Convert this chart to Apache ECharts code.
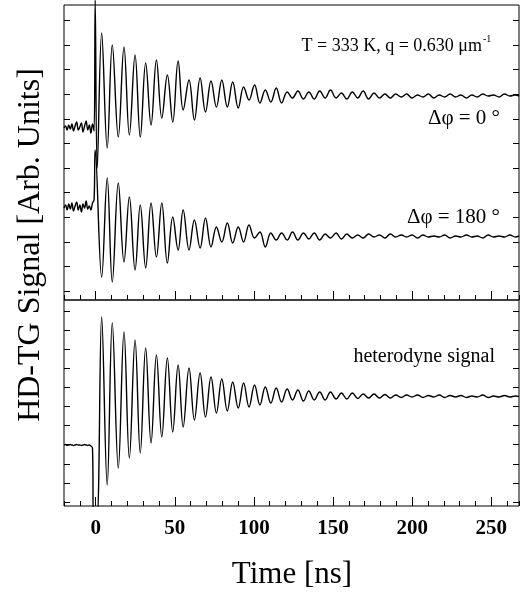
<!DOCTYPE html>
<html>
<head>
  <meta charset="UTF-8" />
  <title>HD-TG Signal</title>
  <script src="https://cdn.jsdelivr.net/npm/echarts@6/dist/echarts.min.js"></script>
  <style>
    html, body { margin: 0; padding: 0; background: #fff; }
    #chart { width: 524px; height: 595px; }
  </style>
</head>
<body>
  <div id="chart"></div>
  <script>
    // time before the pump pulse (ns)
    const preT = [-20, -19, -18, -17, -16, -15, -14, -13, -12, -11, -10, -9, -8, -7, -6, -5, -4, -3, -2];
    const phi0Pre = [172, 174, 170, 175, 171, 176, 169, 174, 178, 170, 173, 177, 168, 174, 179, 170, 175, 167, 176];
    const phi180Pre = [92, 95, 90, 96, 91, 97, 89, 94, 98, 90, 95, 88, 96, 92, 99, 91, 94, 90, 97];
    const hetPre = [61, 61.5, 60.5, 61, 61.5, 61, 60.5, 61, 61.5, 61, 61, 60.5, 61, 61.5, 61, 60.5, 61, 60, 58];

    // the spike at t = 0
    const phi0SpikeT = [-1.0, -0.3, 1.0];
    const phi0SpikeV = [169, 300, 132];
    const phi180SpikeT = [-1.0, -0.3];
    const phi180SpikeV = [100, 150];
    const hetSpikeT = [-1.3, 0.7];
    const hetSpikeV = [-15, -15];

    // times of the oscillation maxima / minima (ns)
    const extT = [3.8, 7.3, 10.5, 14.3, 17.9, 21.3, 24.9, 28.2, 31.6, 35.0, 38.4, 41.8, 45.3, 48.7, 52.1, 55.3,
      59.0, 62.4, 66.0, 69.4, 72.9, 76.3, 79.7, 83.2, 86.6, 90.1, 93.5, 96.9, 100.4, 103.8, 107.2, 110.7, 114.1,
      117.5, 121.0, 124.4, 127.8, 131.3, 134.7, 138.1, 141.6, 145.0, 148.4, 151.9, 155.3, 158.7, 162.2, 165.6,
      169.0, 172.5, 175.9, 179.3, 182.8, 186.2, 189.6, 193.1, 196.5, 199.9, 203.4, 206.8, 210.2, 213.7, 217.1,
      220.5, 224.0, 227.4, 230.8, 234.3, 237.7, 241.1, 244.6, 248.0, 251.4, 254.9, 258.3, 261.7, 265.2, 267.5];

    const phi0Ext = [267, 152, 255, 163, 253, 165, 245, 163, 237, 175, 240, 182, 225, 178, 239, 190, 220, 180, 222,
      188, 219, 193, 220, 193, 218, 192, 213, 200, 215, 197, 210, 198, 212, 197, 208, 202, 209,
      201, 208, 201, 209, 202, 210, 202, 207, 201, 208, 202, 209, 201, 207, 202, 206, 202, 206, 203, 206, 202, 205,
      203, 206, 202, 205, 203, 206, 203, 205, 202, 205, 203, 206, 204, 205, 203, 206, 204, 205, 204];
    const phi180Ext = [23, 122, 18, 117, 38, 103, 30, 95, 32, 97, 43, 97, 37, 83, 50, 90, 50, 80, 52, 82, 53, 73,
      58, 77, 57, 73, 58, 75, 62, 68, 53, 67, 60, 67, 60, 68, 60,
      67, 61, 67, 60, 66, 62, 67, 61, 66, 62, 65, 62, 66, 63, 65, 62, 66, 63, 65, 63, 65, 62, 65, 63, 64, 63, 65,
      62, 64, 63, 65, 63, 64, 62, 65, 63, 64, 63, 65, 63, 64];
    const hetExt = [189, 21, 183, 38, 174, 48, 166, 53, 158, 63, 151, 69, 148, 74, 141, 79, 138, 86, 133, 89, 129,
      93, 127, 95, 124, 98, 123, 99, 121, 101, 119, 103, 118, 104, 117, 106, 116,
      105, 115, 106, 114, 106, 114, 107, 113, 107, 113, 107.5, 112, 108, 112, 108, 111.5, 108, 111, 108.5, 111,
      109, 111, 108.5, 110.5, 109, 111, 108.5, 110.5, 109, 110.5, 108.5, 110, 109, 111, 108.5, 110, 109, 110.5,
      109, 110, 109.5];

    // tick positions (no labels on y)
    const topTicks = [9, 33.6, 58.2, 82.8, 107.4, 132, 156.6, 181.2, 205.8, 230.4, 255, 279.6];
    const bottomTicks = [4, 23.1, 42.2, 61.3, 80.4, 99.5, 118.6, 137.7, 156.8, 175.9, 195];
    const xMajor = [0, 50, 100, 150, 200, 250];

    function pairs(ts, vs) {
      return ts.map((t, i) => [t, vs[i]]);
    }
    function trace(pre, spT, spV, ext) {
      return pairs(preT, pre).concat(pairs(spT, spV), pairs(extT, ext));
    }

    const serif = "'Liberation Serif', 'DejaVu Serif', serif";
    const chart = echarts.init(document.getElementById('chart'));

    function xAx(grid, major, labels) {
      return {
        type: 'value', gridIndex: grid, position: 'bottom', min: -20, max: 267.5,
        interval: major ? undefined : 10,
        axisLine: { show: false, onZero: false },
        splitLine: { show: false },
        axisTick: major
          ? { show: true, inside: true, length: 9, customValues: xMajor, lineStyle: { color: '#000', width: 1 } }
          : { show: true, inside: true, length: 5, lineStyle: { color: '#000', width: 1 } },
        axisLabel: labels
          ? { show: true, customValues: xMajor, margin: 12, color: '#000', fontSize: 21, fontWeight: 'bold', fontFamily: serif }
          : { show: false }
      };
    }
    function yAx(grid, pos, min, max, ticks) {
      return {
        type: 'value', gridIndex: grid, position: pos, min: min, max: max,
        axisLine: { show: false, onZero: false },
        splitLine: { show: false },
        axisLabel: { show: false },
        axisTick: { show: true, inside: true, length: 6, customValues: ticks, lineStyle: { color: '#000', width: 1 } }
      };
    }
    function line(xi, yi, data, clip) {
      return {
        type: 'line', xAxisIndex: xi, yAxisIndex: yi, data: data,
        showSymbol: false, smooth: 0.4, clip: clip, animation: false,
        lineStyle: { color: '#000', width: 1.4 }
      };
    }

    chart.setOption({
      animation: false,
      grid: [
        { left: 64, top: 5, width: 455, height: 295, show: true, borderColor: '#000', borderWidth: 1 },
        { left: 64, top: 300, width: 455, height: 206, show: true, borderColor: '#000', borderWidth: 1 }
      ],
      xAxis: [xAx(0, false, false), xAx(0, true, false), xAx(1, false, false), xAx(1, true, true)],
      yAxis: [
        yAx(0, 'left', 0, 295, topTicks), yAx(0, 'right', 0, 295, topTicks),
        yAx(1, 'left', 0, 206, bottomTicks), yAx(1, 'right', 0, 206, bottomTicks)
      ],
      series: [
        line(0, 0, trace(phi0Pre, phi0SpikeT, phi0SpikeV, phi0Ext), false),
        line(0, 0, trace(phi180Pre, phi180SpikeT, phi180SpikeV, phi180Ext), true),
        line(2, 2, trace(hetPre, hetSpikeT, hetSpikeV, hetExt), true)
      ],
      graphic: [
        { type: 'text', x: 31, y: 245, rotation: Math.PI / 2,
          style: { text: 'HD-TG Signal [Arb. Units]', font: '32px ' + serif, fill: '#000', textAlign: 'center', textVerticalAlign: 'middle' } },
        { type: 'text', x: 292, y: 575,
          style: { text: 'Time [ns]', font: '31px ' + serif, fill: '#000', textAlign: 'center', textVerticalAlign: 'middle' } },
        { type: 'text', x: 482, y: 46,
          style: { text: 'T = 333 K, q = 0.630 \u03bcm', font: '18px ' + serif, fill: '#000', textAlign: 'right', textVerticalAlign: 'middle' } },
        { type: 'text', x: 483, y: 39,
          style: { text: '-1', font: '10px ' + serif, fill: '#000', textAlign: 'left', textVerticalAlign: 'middle' } },
        { type: 'text', x: 500, y: 118,
          style: { text: '\u0394\u03c6 = 0 \u00b0', font: '21px ' + serif, fill: '#000', textAlign: 'right', textVerticalAlign: 'middle' } },
        { type: 'text', x: 500, y: 217,
          style: { text: '\u0394\u03c6 = 180 \u00b0', font: '21px ' + serif, fill: '#000', textAlign: 'right', textVerticalAlign: 'middle' } },
        { type: 'text', x: 495, y: 357,
          style: { text: 'heterodyne signal', font: '20px ' + serif, fill: '#000', textAlign: 'right', textVerticalAlign: 'middle' } }
      ]
    });
  </script>
</body>
</html>
